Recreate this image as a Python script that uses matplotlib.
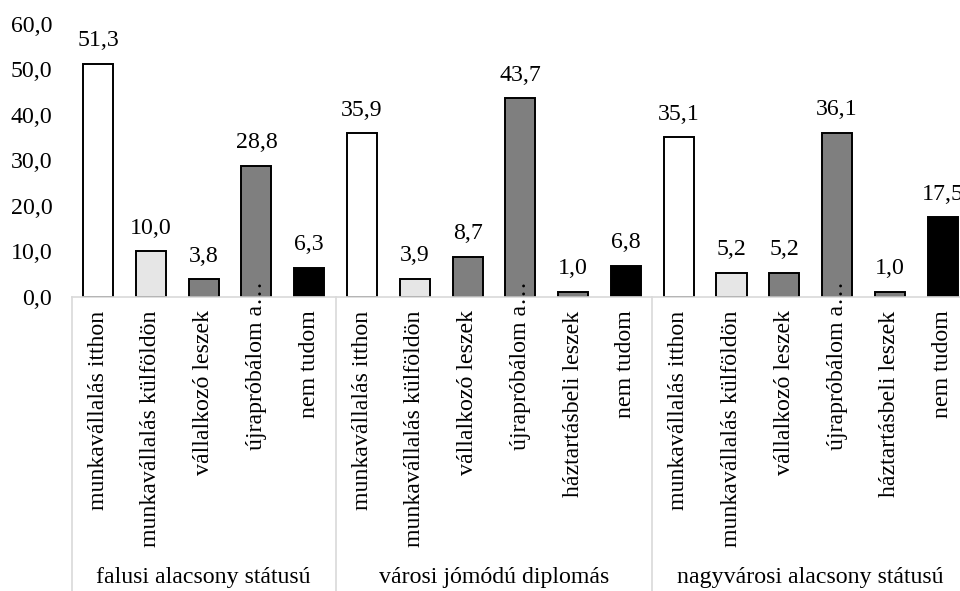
import matplotlib
matplotlib.use('Agg')
import matplotlib.pyplot as plt
import matplotlib.transforms as mtransforms

plt.rcParams['font.family'] = ['Liberation Serif', 'DejaVu Serif']

# csoportok es valaszok
groups = ['falusi alacsony státusú', 'városi jómódú diplomás', 'nagyvárosi alacsony státusú']
answers_1 = ['munkavállalás itthon', 'munkavállalás külföldön', 'vállalkozó leszek',
             'újrapróbálom a…', 'nem tudom']
answers_23 = ['munkavállalás itthon', 'munkavállalás külföldön', 'vállalkozó leszek',
              'újrapróbálom a…', 'háztartásbeli leszek', 'nem tudom']
values_1 = [51.3, 10.0, 3.8, 28.8, 6.3]
values_2 = [35.9, 3.9, 8.7, 43.7, 1.0, 6.8]
values_3 = [35.1, 5.2, 5.2, 36.1, 1.0, 17.5]
yticks = [0, 10, 20, 30, 40, 50, 60]

fills = {'munkavállalás itthon': '#ffffff',
         'munkavállalás külföldön': '#e6e6e6',
         'vállalkozó leszek': '#7f7f7f',
         'újrapróbálom a…': '#7f7f7f',
         'háztartásbeli leszek': '#7f7f7f',
         'nem tudom': '#000000'}

labels = answers_1 + answers_23 + answers_23
values = values_1 + values_2 + values_3
sizes = [len(answers_1), len(answers_23), len(answers_23)]
xs = list(range(len(values)))

fig = plt.figure(figsize=(9.6, 5.91), dpi=100)
ax_bottom, ax_height = 0.4983, 0.4611
ax = fig.add_axes([0.0747, ax_bottom, 0.9347, ax_height])

ax.bar(xs, values, width=0.57, color=[fills[l] for l in labels],
       edgecolor='black', linewidth=1.4, zorder=2)

fs = 17.2
for x, v in zip(xs, values):
    ax.annotate(('%.1f' % v).replace('.', ','), (x, v), xytext=(0, 9),
                textcoords='offset points', ha='center', va='bottom',
                fontsize=fs, annotation_clip=False)

ax.set_xlim(-0.5, len(values) - 0.5)
ax.set_ylim(0, 60)
ax.set_yticks(yticks)
ax.set_yticklabels([('%.1f' % t).replace('.', ',') for t in yticks], fontsize=fs)
ax.tick_params(axis='y', length=0, pad=14)
ax.set_xticks([])
for s in ['top', 'right', 'left']:
    ax.spines[s].set_visible(False)
ax.spines['bottom'].set_color('#d9d9d9')
ax.spines['bottom'].set_linewidth(1.2)

# kategoriafeliratok elforgatva
trans = mtransforms.blended_transform_factory(ax.transData, ax.transAxes)
for x, l in zip(xs, labels):
    if l.endswith('…'):
        dy = 11
    else:
        dy = -10
    ax.annotate(l, (x, 0), xycoords=trans, xytext=(0, dy),
                textcoords='offset points', rotation=90, ha='center', va='top',
                fontsize=fs, annotation_clip=False, zorder=5)

# csoporthatarok es csoportnevek
ybottom = -ax_bottom / ax_height
ylabel = (14 / 591 - ax_bottom) / ax_height
start = -0.5
for g, n in zip(groups, sizes):
    ax.plot([start, start], [0, ybottom], transform=trans, color='#d9d9d9',
            linewidth=1.2, clip_on=False)
    ax.text(start + n / 2, ylabel, g, transform=trans, ha='center', va='center',
            fontsize=fs)
    start += n
ax.plot([start, start], [0, ybottom], transform=trans, color='#d9d9d9',
        linewidth=1.2, clip_on=False)

fig.savefig('out.png', dpi=100)
